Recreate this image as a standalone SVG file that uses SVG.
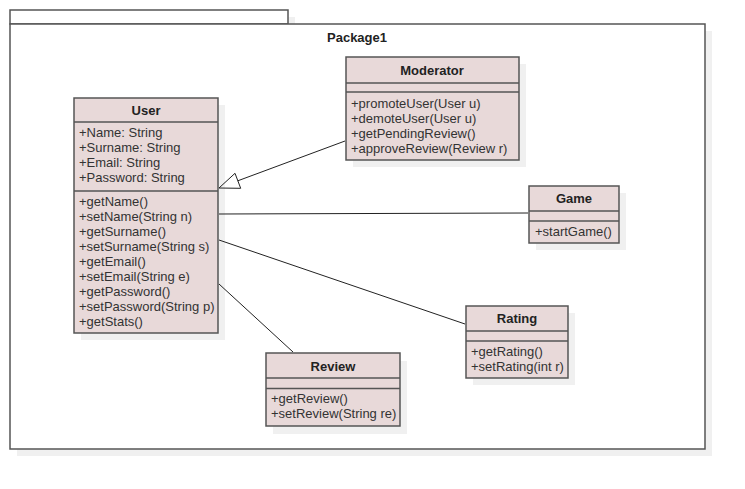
<svg xmlns="http://www.w3.org/2000/svg" width="745" height="489" viewBox="0 0 745 489">
<style>
.shadow{fill:#f0f0f0;stroke:none}
.box{fill:#e8d9d9;stroke:#555;stroke-width:1.5}
.div{stroke:#555;stroke-width:1.5}
.pkg{fill:#fff;stroke:#555;stroke-width:1.5}
.t{font-family:"Liberation Sans",Arial,sans-serif;font-size:13px;fill:#333}
.b{font-family:"Liberation Sans",Arial,sans-serif;font-size:13px;font-weight:bold;fill:#222;text-anchor:middle}
.c{stroke:#222;stroke-width:1;fill:none}
</style>
<rect width="745" height="489" fill="#fff"/>
<g id="package1">
<rect class="shadow" x="17" y="17" width="278" height="14"/>
<rect class="shadow" x="17" y="31" width="695" height="425"/>
<rect class="pkg" x="10" y="10" width="278" height="14"/>
<rect class="pkg" x="10" y="24" width="695" height="425"/>
<text class="b" x="357" y="42">Package1</text>
</g>
<g id="User">
<rect class="shadow" x="81" y="105" width="144" height="235"/>
<rect class="box" x="74" y="98" width="144" height="235"/>
<line class="div" x1="74" y1="122" x2="218" y2="122"/>
<line class="div" x1="74" y1="191" x2="218" y2="191"/>
<text class="b" x="146" y="115">User</text>
<text class="t" x="79" y="137">+Name: String</text>
<text class="t" x="79" y="152">+Surname: String</text>
<text class="t" x="79" y="167">+Email: String</text>
<text class="t" x="79" y="182">+Password: String</text>
<text class="t" x="79" y="206">+getName()</text>
<text class="t" x="79" y="221">+setName(String n)</text>
<text class="t" x="79" y="236">+getSurname()</text>
<text class="t" x="79" y="251">+setSurname(String s)</text>
<text class="t" x="79" y="266">+getEmail()</text>
<text class="t" x="79" y="281">+setEmail(String e)</text>
<text class="t" x="79" y="296">+getPassword()</text>
<text class="t" x="79" y="311">+setPassword(String p)</text>
<text class="t" x="79" y="326">+getStats()</text>
</g>
<g id="Moderator">
<rect class="shadow" x="353" y="64" width="173" height="103"/>
<rect class="box" x="346" y="57" width="173" height="103"/>
<line class="div" x1="346" y1="83" x2="519" y2="83"/>
<line class="div" x1="346" y1="92" x2="519" y2="92"/>
<text class="b" x="432" y="75">Moderator</text>
<text class="t" x="351" y="108">+promoteUser(User u)</text>
<text class="t" x="351" y="123">+demoteUser(User u)</text>
<text class="t" x="351" y="138">+getPendingReview()</text>
<text class="t" x="351" y="153">+approveReview(Review r)</text>
</g>
<g id="Game">
<rect class="shadow" x="536" y="193" width="90" height="57"/>
<rect class="box" x="529" y="186" width="90" height="57"/>
<line class="div" x1="529" y1="211" x2="619" y2="211"/>
<line class="div" x1="529" y1="221" x2="619" y2="221"/>
<text class="b" x="574" y="203">Game</text>
<text class="t" x="535" y="236">+startGame()</text>
</g>
<g id="Rating">
<rect class="shadow" x="473" y="313" width="102" height="72"/>
<rect class="box" x="466" y="306" width="102" height="72"/>
<line class="div" x1="466" y1="331" x2="568" y2="331"/>
<line class="div" x1="466" y1="341" x2="568" y2="341"/>
<text class="b" x="517" y="323">Rating</text>
<text class="t" x="471" y="356">+getRating()</text>
<text class="t" x="471" y="371">+setRating(int r)</text>
</g>
<g id="Review">
<rect class="shadow" x="273" y="361" width="134" height="73"/>
<rect class="box" x="266" y="353" width="134" height="73"/>
<line class="div" x1="266" y1="378" x2="400" y2="378"/>
<line class="div" x1="266" y1="388.5" x2="400" y2="388.5"/>
<text class="b" x="333" y="371">Review</text>
<text class="t" x="271" y="403">+getReview()</text>
<text class="t" x="271" y="418">+setReview(String re)</text>
</g>
<g id="connectors">
<line class="c" x1="345" y1="141" x2="237.8" y2="180.8"/>
<polygon class="c" points="219,188 235,173.3 240.7,188.3" fill="#fff"/>
<line class="c" x1="219" y1="214" x2="528" y2="213"/>
<line class="c" x1="219" y1="240" x2="465" y2="324"/>
<line class="c" x1="219" y1="284" x2="293" y2="352"/>
</g>
</svg>
